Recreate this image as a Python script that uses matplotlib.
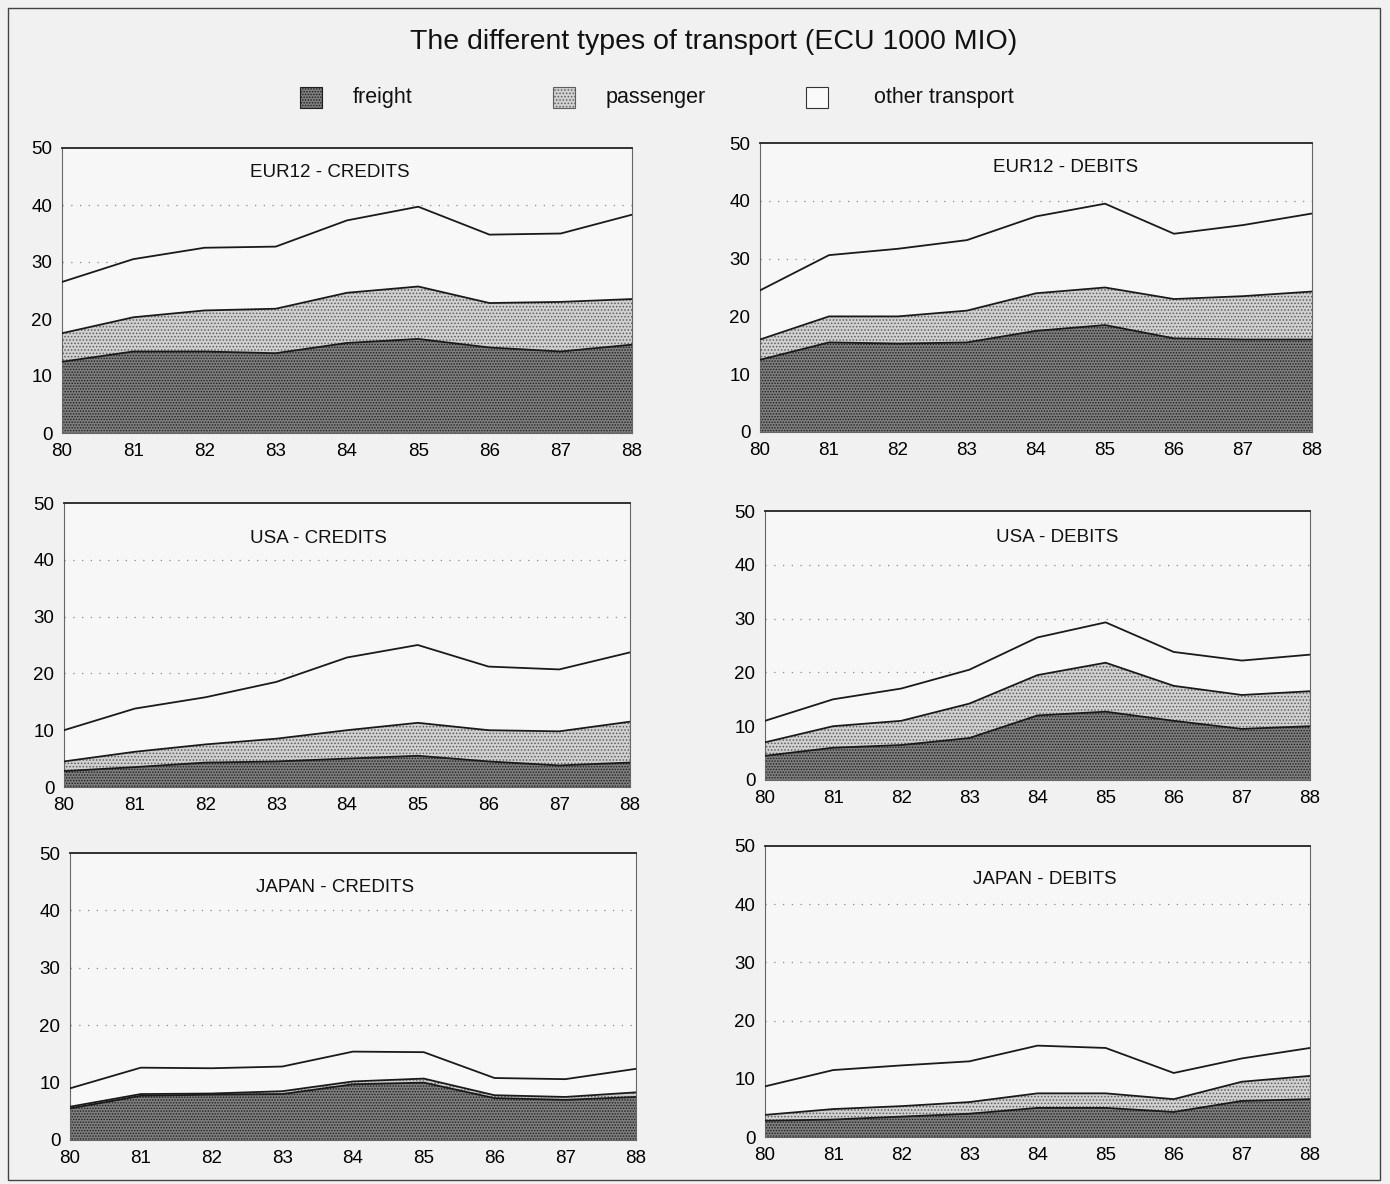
import matplotlib
matplotlib.use('Agg')
import matplotlib.pyplot as plt
from matplotlib.patches import Rectangle
import numpy as np

plt.rcParams['font.family'] = ['Liberation Sans Narrow', 'Liberation Sans', 'DejaVu Sans']
plt.rcParams['hatch.linewidth'] = 0.7

years = [80, 81, 82, 83, 84, 85, 86, 87, 88]
series_names = ['freight', 'passenger', 'other transport']
panel_titles = ['EUR12 - CREDITS', 'EUR12 - DEBITS', 'USA - CREDITS',
                'USA - DEBITS', 'JAPAN - CREDITS', 'JAPAN - DEBITS']

# values per panel: freight, passenger, other transport (stacked)
eur_cr_freight = [12.5, 14.3, 14.3, 14.0, 15.8, 16.5, 15.0, 14.3, 15.5]
eur_cr_pass    = [5.0, 6.0, 7.2, 7.8, 8.8, 9.2, 7.8, 8.7, 8.0]
eur_cr_other   = [9.0, 10.2, 11.0, 10.9, 12.7, 14.0, 12.0, 12.0, 14.8]

eur_db_freight = [12.5, 15.5, 15.3, 15.5, 17.5, 18.5, 16.2, 16.0, 16.0]
eur_db_pass    = [3.5, 4.5, 4.7, 5.5, 6.5, 6.5, 6.8, 7.5, 8.3]
eur_db_other   = [8.5, 10.6, 11.7, 12.2, 13.3, 14.5, 11.3, 12.3, 13.5]

usa_cr_freight = [2.8, 3.5, 4.3, 4.5, 5.0, 5.5, 4.5, 3.8, 4.3]
usa_cr_pass    = [1.7, 2.7, 3.2, 4.0, 5.0, 5.8, 5.5, 6.0, 7.2]
usa_cr_other   = [5.5, 7.6, 8.3, 10.0, 12.8, 13.7, 11.2, 10.9, 12.2]

usa_db_freight = [4.5, 6.0, 6.5, 7.8, 12.0, 12.7, 11.0, 9.5, 10.0]
usa_db_pass    = [2.5, 4.0, 4.5, 6.4, 7.5, 9.1, 6.5, 6.3, 6.5]
usa_db_other   = [4.0, 5.0, 6.0, 6.3, 7.0, 7.5, 6.3, 6.4, 6.8]

jap_cr_freight = [5.5, 7.7, 7.9, 8.0, 9.7, 10.0, 7.3, 7.0, 7.5]
jap_cr_pass    = [0.3, 0.3, 0.2, 0.5, 0.5, 0.7, 0.5, 0.5, 0.8]
jap_cr_other   = [3.2, 4.6, 4.4, 4.3, 5.2, 4.6, 3.0, 3.1, 4.1]

jap_db_freight = [2.8, 3.0, 3.5, 4.0, 5.0, 5.0, 4.3, 6.2, 6.5]
jap_db_pass    = [1.0, 1.8, 1.8, 2.0, 2.5, 2.5, 2.2, 3.3, 4.0]
jap_db_other   = [4.9, 6.7, 7.0, 7.0, 8.2, 7.8, 4.5, 4.0, 4.8]

panel_data = [
    (eur_cr_freight, eur_cr_pass, eur_cr_other),
    (eur_db_freight, eur_db_pass, eur_db_other),
    (usa_cr_freight, usa_cr_pass, usa_cr_other),
    (usa_db_freight, usa_db_pass, usa_db_other),
    (jap_cr_freight, jap_cr_pass, jap_cr_other),
    (jap_db_freight, jap_db_pass, jap_db_other),
]

W, H = 1390, 1184
fig = plt.figure(figsize=(W / 100, H / 100), dpi=100, facecolor='#f1f1f1')

# frame boxes in pixels: left, right, top, bottom
boxes = [(62, 632, 148, 433), (760, 1312, 143, 432),
         (64, 630, 503, 787), (765, 1310, 511, 780),
         (70, 636, 853, 1140), (765, 1310, 846, 1137)]
title_pos = [(0.47, 0.915), (0.553, 0.915), (0.45, 0.875),
             (0.536, 0.9), (0.468, 0.88), (0.514, 0.885)]

styles = [dict(facecolor='#7e7e7e', edgecolor='#1e1e1e', hatch='......'),
          dict(facecolor='#d0d0d0', edgecolor='#5e5e5e', hatch='.....'),
          dict(facecolor='#f8f8f8', edgecolor='#f8f8f8', hatch=None)]

for (l, r, t, b), name, vals, tp in zip(boxes, panel_titles, panel_data, title_pos):
    ax = fig.add_axes([l / W, 1 - b / H, (r - l) / W, (b - t) / H])
    ax.set_facecolor('#f7f7f7')
    x = np.array(years)
    bottom = np.zeros(len(years))
    for v, st in zip(vals, styles):
        top = bottom + np.array(v)
        ax.fill_between(x, bottom, top, linewidth=0, zorder=2, **st)
        ax.plot(x, top, color='#1a1a1a', lw=1.3, zorder=3)
        bottom = top
    for yv in [20, 30, 40]:
        ax.axhline(yv, color='#888888', lw=0.9, ls=(0, (1, 6)), zorder=1.5)
    ax.set_xlim(80, 88)
    ax.set_ylim(0, 50)
    ax.set_xticks(years)
    ax.set_xticklabels([str(y) for y in years])
    ax.set_yticks([0, 10, 20, 30, 40, 50])
    ax.tick_params(axis='both', length=0, labelsize=13.5, pad=7)
    ax.tick_params(axis='y', pad=7)
    for s in ['left', 'right', 'bottom']:
        ax.spines[s].set_color('#666666')
        ax.spines[s].set_linewidth(0.8)
    ax.spines['top'].set_color('#222222')
    ax.spines['top'].set_linewidth(1.3)
    ax.text(tp[0], tp[1], name, transform=ax.transAxes, ha='center',
            va='center', fontsize=13.5, color='#111111', zorder=5)

fig.text(714 / W, 1 - 42 / H, 'The different types of transport (ECU 1000 MIO)',
         ha='center', va='center', fontsize=20.5, color='#111111')

# legend row
legend_box_x = [300, 553, 806]
legend_text_x = [353, 606, 874]
for bx, tx, name, st in zip(legend_box_x, legend_text_x, series_names, styles):
    fc = st['facecolor'] if st['hatch'] else '#fafafa'
    ec = st['edgecolor'] if st['hatch'] else '#333333'
    fig.patches.append(Rectangle((bx / W, 1 - 108 / H), 22 / W, 21 / H,
                                 transform=fig.transFigure, facecolor=fc,
                                 edgecolor=ec, hatch=st['hatch'], lw=0.8))
    fig.text(tx / W, 1 - 98 / H, name, ha='left', va='center',
             fontsize=15.5, color='#111111')

# outer frame
fig.patches.append(Rectangle((8 / W, 4 / H), 1372 / W, 1172 / H,
                             transform=fig.transFigure, fill=False,
                             edgecolor='#444444', lw=1.0))

fig.savefig('out.png', dpi=100, facecolor=fig.get_facecolor())
